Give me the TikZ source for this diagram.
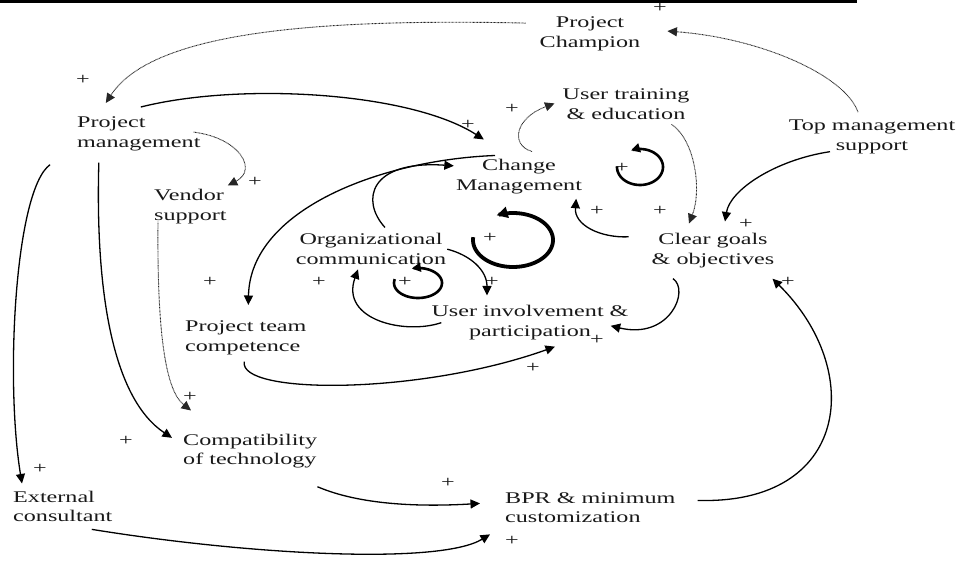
\documentclass[tikz,border=0pt]{standalone}
\usepackage{fontspec}
\setmainfont{Liberation Serif}[FakeStretch=1.48]
\usetikzlibrary{arrows.meta}
\newcommand\cldfont{\fontsize{16.3}{19.5}\selectfont}
\begin{document}
\begin{tikzpicture}[x=1pt,y=-1pt,
  lbl/.style={inner sep=0pt, font=\cldfont, text=black!90},
  sgn/.style={inner sep=0pt, font=\cldfont, text=black!90},
  tip/.style={-{Triangle[length=9.5pt,width=9pt]}},
  link/.style={tip, line width=1.3pt, black},
  weak/.style={tip, line width=0.9pt, black!85, dash pattern=on 0.8pt off 0.6pt},
  loopmid/.style={-{Triangle[length=9pt,width=9pt]}, line width=2.6pt},
  loopbig/.style={-{Triangle[length=11pt,width=11pt]}, line width=3.8pt},
]
\useasboundingbox (0,0) rectangle (956,561);
\fill[white] (0,0) rectangle (956,561);
% rule along the top edge
\fill (0,0) rectangle (857,3.5);

% variables (anchored on the baseline of the last line)
\node[lbl, align=center, anchor=base] (pc) at (590,47.5) {Project\\Champion};
\node[lbl, align=left, anchor=base west] (pm) at (77,147.5) {Project\\management};
\node[lbl, align=center, anchor=base] (ut) at (626,119.5) {User training\\\& education};
\node[lbl, align=center, anchor=base] (tm) at (872,150.5) {Top management\\support};
\node[lbl, align=center, anchor=base] (cm) at (519,190.5) {Change\\Management};
\node[lbl, align=left, anchor=base west] (vs) at (154,220.5) {Vendor\\support};
\node[lbl, align=center, anchor=base] (oc) at (371,264.5) {Organizational\\communication};
\node[lbl, align=center, anchor=base] (cg) at (713,264.5) {Clear goals\\\& objectives};
\node[lbl, align=center, anchor=base] (ui) at (530,336.5) {User involvement \&\\participation};
\node[lbl, align=left, anchor=base west] (pt) at (185,351.5) {Project team\\competence};
\node[lbl, align=left, anchor=base west] (ct) at (183,464.5) {Compatibility\\of technology};
\node[lbl, align=left, anchor=base west] (ec) at (13,521.5) {External\\consultant};
\node[lbl, align=left, anchor=base west] (bpr) at (505,522.5) {BPR \& minimum\\customization};

% polarity signs
\node[sgn] (s1) at (660,8) {+};
\node[sgn] (s2) at (83,80) {+};
\node[sgn] (s3) at (468,125) {+};
\node[sgn] (s4) at (512,109) {+};
\node[sgn] (s5) at (255,182) {+};
\node[sgn] (s6) at (597,211) {+};
\node[sgn] (s7) at (660,211) {+};
\node[sgn] (s8) at (746,224) {+};
\node[sgn] (s9) at (622,168) {+};
\node[sgn] (s10) at (490,238) {+};
\node[sgn] (s11) at (210,282) {+};
\node[sgn] (s12) at (319,282) {+};
\node[sgn] (s13) at (405,282) {+};
\node[sgn] (s14) at (492,282) {+};
\node[sgn] (s15) at (788,282) {+};
\node[sgn] (s16) at (597,340) {+};
\node[sgn] (s17) at (533,368) {+};
\node[sgn] (s18) at (190,397) {+};
\node[sgn] (s19) at (126,441) {+};
\node[sgn] (s20) at (40,469) {+};
\node[sgn] (s21) at (448,483) {+};
\node[sgn] (s22) at (512,541) {+};

% causal links
\draw[weak] ([xshift=-14pt,yshift=11pt]pc.west) .. controls (300,18) and (150,35) .. ([xshift=-33pt,yshift=14pt]pm.north);
\draw[link] ([xshift=2pt,yshift=10pt]pm.north) .. controls (240,82) and (410,92) .. ([xshift=28pt,yshift=20pt]cm.north west);
\draw[weak] ([xshift=-7pt,yshift=2pt]pm.east) .. controls (240,138) and (258,170) .. ([xshift=1pt,yshift=4pt]vs.north east);
\draw[link] ([xshift=-27pt,yshift=-13.5pt]pm.south west) .. controls (15,190) and (5,380) .. ([xshift=9pt,yshift=7pt]ec.north west);
\draw[link] ([xshift=-40pt,yshift=-11.5pt]pm.south) .. controls (95,300) and (115,400) .. ([xshift=-11pt,yshift=13pt]ct.west);
\draw[weak] ([xshift=4pt,yshift=2.5pt]vs.south west) .. controls (157,330) and (165,390) .. ([xshift=8pt,yshift=23pt]ct.north west);
\draw[link] ([xshift=-24pt,yshift=4pt]cm.north) .. controls (380,160) and (250,210) .. ([xshift=2.5pt,yshift=16pt]pt.north);
\draw[link] ([xshift=14pt,yshift=6pt]oc.north) .. controls (360,200) and (370,160) .. ([xshift=-2pt,yshift=11pt]cm.west);
\draw[link] ([xshift=1pt]oc.east) .. controls (470,255) and (487,270) .. ([xshift=-43pt,yshift=10pt]ui.north);
\draw[link] ([xshift=10pt,yshift=17.5pt]ui.south west) .. controls (405,335) and (340,320) .. ([xshift=-13pt,yshift=-4.5pt]oc.south);
\draw[link] ([xshift=-23pt,yshift=14pt]cg.west) .. controls (600,238) and (574,225) .. ([xshift=-6pt,yshift=-4.5pt]cm.south east);
\draw[link] ([xshift=-40pt,yshift=-10.5pt]cg.south) .. controls (690,290) and (670,340) .. ([xshift=-18pt,yshift=-3pt]ui.east);
\draw[weak] ([xshift=-18pt,yshift=-4.5pt]ut.south east) .. controls (695,140) and (702,190) .. ([xshift=-24pt,yshift=10pt]cg.north);
\draw[link] ([xshift=-42pt,yshift=2.5pt]tm.south) .. controls (775,160) and (730,190) .. ([xshift=12pt,yshift=12pt]cg.north);
\draw[weak] ([xshift=-14pt,yshift=8pt]tm.north) .. controls (845,75) and (760,38) .. ([xshift=27pt,yshift=3pt]pc.east);
\draw[weak] ([xshift=13pt,yshift=8pt]cm.north) .. controls (510,145) and (515,118) .. ([xshift=-8pt,yshift=1pt]ut.west);
\draw[link] ([xshift=-1.5pt,yshift=-6.5pt]pt.south) .. controls (238,395) and (420,395) .. ([xshift=25pt,yshift=-6.5pt]ui.south);
\draw[link] ([yshift=-18.5pt]ct.south east) .. controls (360,505) and (420,507) .. ([xshift=-25pt,yshift=4pt]bpr.west);
\draw[link] ([xshift=29pt,yshift=-7.5pt]ec.south) .. controls (250,555) and (440,565) .. ([xshift=-15pt,yshift=-11.5pt]bpr.south west);
\draw[link] ([xshift=22pt,yshift=7pt]bpr.east) .. controls (850,505) and (865,370) .. ([xshift=-2pt,yshift=-10.5pt]cg.south east);

% reinforcing loop markers
\draw[loopbig] plot[domain=0:300, samples=80, smooth] ({513+40*cos(186-\x)}, {240+27*sin(186-\x)});
\draw[loopmid] plot[domain=0:300, samples=60, smooth] ({418+24*cos(195-\x)}, {283+15*sin(195-\x)});
\draw[loopmid] plot[domain=0:295, samples=60, smooth] ({640+23*cos(182-\x)}, {167+18*sin(182-\x)});
\end{tikzpicture}
\end{document}
